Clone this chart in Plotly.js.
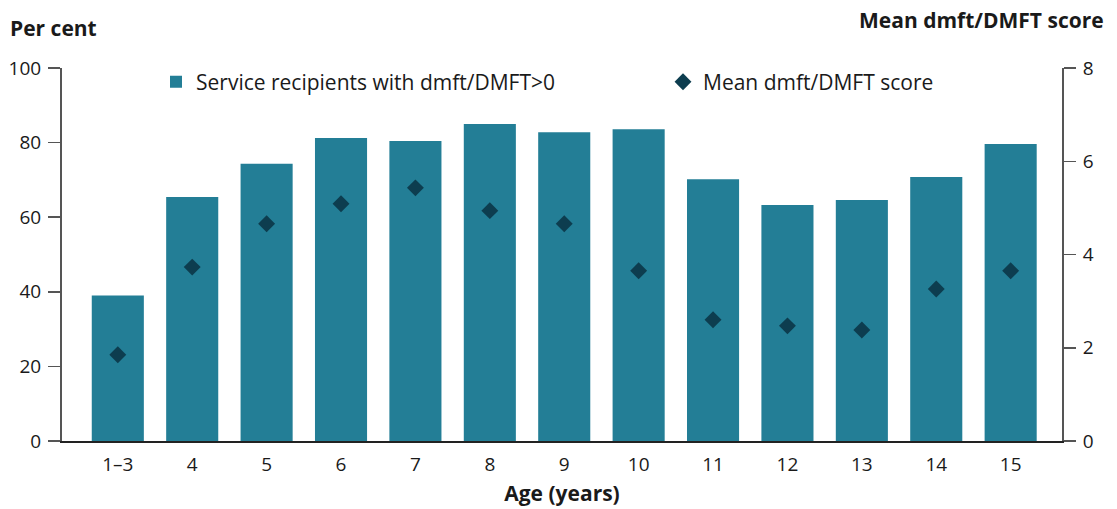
<!DOCTYPE html>
<html>
<head>
<meta charset="utf-8">
<script src="https://cdn.plot.ly/plotly-3.0.1.min.js"></script>
<style>html,body{margin:0;padding:0;background:#fff;}#chart{width:1117px;height:509px;}</style>
</head>
<body>
<div id="chart"></div>
<script>
var ageGroups = ['1–3','4','5','6','7','8','9','10','11','12','13','14','15'];
var pctWithDecay = [39, 65.4, 74.3, 81.2, 80.4, 85.0, 82.8, 83.6, 70.2, 63.3, 64.6, 70.8, 79.6];
var meanScore = [1.85, 3.73, 4.66, 5.09, 5.43, 4.94, 4.66, 3.65, 2.60, 2.47, 2.38, 3.26, 3.65];
var barName = 'Service recipients with dmft/DMFT>0';
var markerName = 'Mean dmft/DMFT score';

var font = 'Open Sans, Noto Sans, sans-serif';
var traces = [
  {type:'bar', x:ageGroups, y:pctWithDecay, name:barName, marker:{color:'#237e96'}, width:0.7, yaxis:'y', legend:'legend'},
  {type:'scatter', mode:'markers', x:ageGroups, y:meanScore, name:markerName, yaxis:'y2', legend:'legend2',
   marker:{symbol:'diamond', size:13, color:'#0d3d4f'}}
];
var legendBase = {orientation:'h', xanchor:'left', yanchor:'middle', yref:'paper', y:0.962,
                  font:{size:21, family:font, color:'#1a1a1a'}, bgcolor:'rgba(0,0,0,0)'};
var layout = {
  width:1117, height:509,
  margin:{l:62, r:55, t:68, b:68},
  paper_bgcolor:'#fff', plot_bgcolor:'#fff',
  font:{family:font, size:19, color:'#1a1a1a'},
  showlegend:true,
  legend:Object.assign({}, legendBase, {x:0.094}),
  legend2:Object.assign({}, legendBase, {x:0.601}),
  bargap:0.3,
  xaxis:{type:'category', range:[-0.75, 12.69], showline:true, linecolor:'#222', linewidth:1.5,
         ticks:'', showgrid:false, zeroline:false, tickfont:{size:19}, ticklabelstandoff:6,
         title:{text:'<b>Age (years)</b>', font:{size:21}, standoff:10}},
  yaxis:{range:[0,100], dtick:20, showline:true, linecolor:'#555', linewidth:2, ticks:'outside',
         ticklen:12, tickcolor:'#555', tickwidth:1.5, showgrid:false, zeroline:false, tickfont:{size:19}, ticklabelstandoff:3},
  yaxis2:{range:[0,8], dtick:2, overlaying:'y', side:'right', showline:true, linecolor:'#555', linewidth:2,
          ticks:'outside', ticklen:12, tickcolor:'#555', tickwidth:1.5, showgrid:false, zeroline:false, tickfont:{size:19}, ticklabelstandoff:3},
  annotations:[
    {text:'<b>Per cent</b>', xref:'paper', yref:'paper', x:-0.054, y:1.107, xanchor:'left', yanchor:'middle', showarrow:false, font:{size:21}},
    {text:'<b>Mean dmft/DMFT score</b>', xref:'paper', yref:'paper', x:1.044, y:1.129, xanchor:'right', yanchor:'middle', showarrow:false, font:{size:21}}
  ]
};
Plotly.newPlot('chart', traces, layout, {displayModeBar:false, staticPlot:true});
</script>
</body>
</html>
